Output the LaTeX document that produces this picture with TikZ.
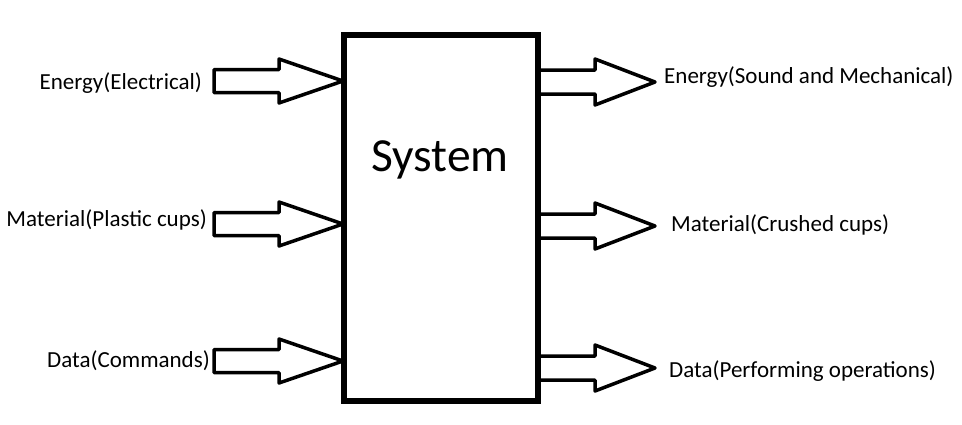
\documentclass[tikz,border=0pt]{standalone}
\usepackage{fontspec}
\setmainfont{Carlito}
\usetikzlibrary{calc}

\begin{document}
\begin{tikzpicture}[x=1pt,y=-1pt]
        \tikzset{
            flowtext/.style={font=\fontsize{23}{27}\selectfont, inner sep=0pt},
            fatarrow/.style={draw, line width=3.5pt, line join=round, fill=white}
        }
        \useasboundingbox (0,0) rectangle (962,424);

        % Draw the system block
        \node[draw, line width=4pt, minimum width=192pt, minimum height=364pt, inner sep=0pt] (sys) at (441,218) {};
        \node[font=\fontsize{47.5}{56}\selectfont] (sysname) at (440,160) {System};

        % Inputs on the left
        \foreach \y/\tx/\ty/\name/\txt in {81/202/83/inE/Energy(Electrical), 224/207/220/inM/Material(Plastic cups), 361/210/361/inD/Data(Commands)} {
            \node[flowtext, anchor=east] (\name) at (\tx,\ty) {\txt};
            \coordinate (\name tail) at (214,\y);
            \draw[fatarrow] ($(\name tail)+(0,-11.5)$) -- (279,\y-11.5) -- (279,\y-22)
                -- (sys.west |- 0,\y) -- (279,\y+22) -- (279,\y+11.5) -- ($(\name tail)+(0,11.5)$) -- cycle;
        }

        % Outputs on the right
        \foreach \y/\x/\ty/\name/\txt in {82/664/77/outE/Energy(Sound and Mechanical), 226/671/225/outM/Material(Crushed cups), 368/669/371/outD/Data(Performing operations)} {
            \node[flowtext, anchor=west] (\name) at (\x,\ty) {\txt};
            \coordinate (\name tip) at (655,\y);
            \draw[fatarrow] (sys.east |- 0,\y-12) -- (595,\y-12) -- (595,\y-23)
                -- (\name tip) -- (595,\y+23) -- (595,\y+12) -- (sys.east |- 0,\y+12);
        }

        % Redraw the block outline on top
        \draw[line width=4pt] (sys.south west) rectangle (sys.north east);
\end{tikzpicture}
\end{document}
